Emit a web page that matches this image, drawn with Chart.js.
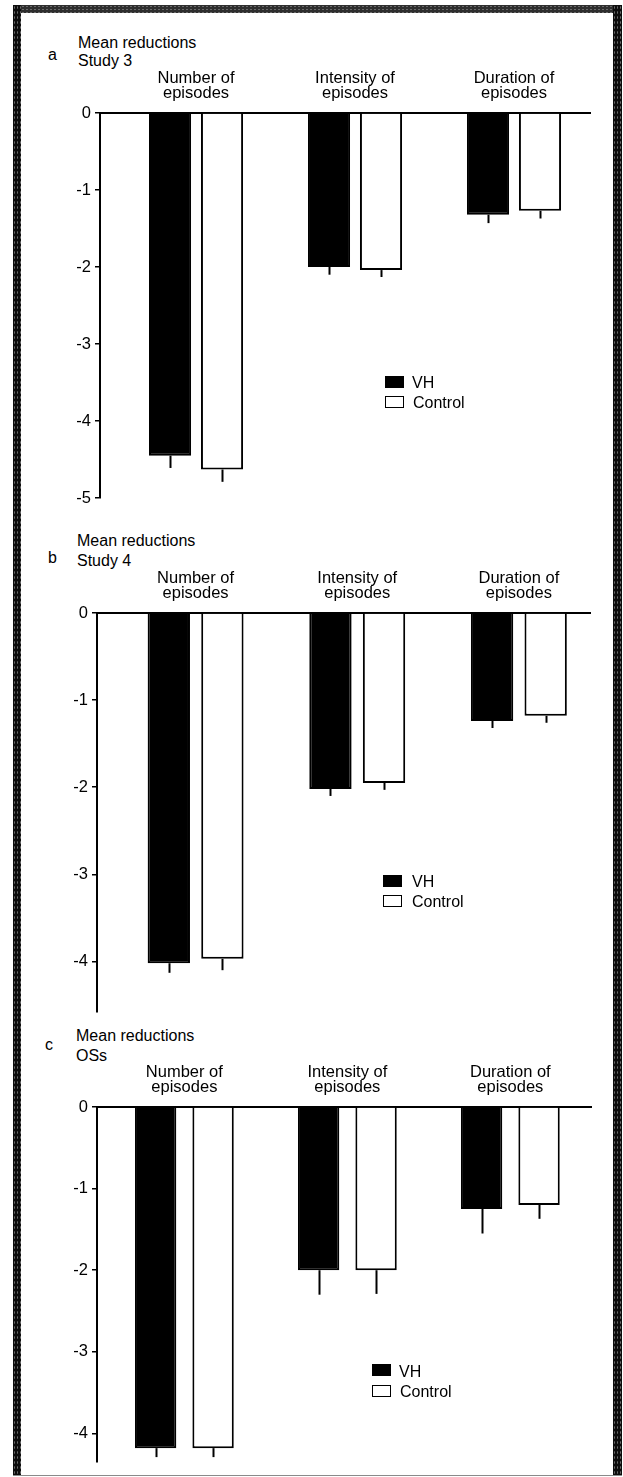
<!DOCTYPE html>
<html>
<head>
<meta charset="utf-8">
<script src="https://cdn.jsdelivr.net/npm/chart.js@4.4.1/dist/chart.umd.min.js"></script>
<style>
  html, body { margin: 0; padding: 0; background: #fff; }
  #fig { position: relative; width: 623px; height: 1477px; overflow: hidden;
         font-family: 'Liberation Sans', Arial, Helvetica, sans-serif; color: #000; }
  .band { position: absolute;
          background-color: #0d0d0d;
          background-image: radial-gradient(#6a6a6a 0.5px, transparent 0.8px);
          background-size: 3px 5px; }
  .band.top { background-color: #2e2e2e; background-size: 4px 3px; }
  .txt { position: absolute; font-size: 16px; line-height: 16px; white-space: nowrap; }
  .sw { position: absolute; width: 19px; height: 12px; box-sizing: border-box; border: 1.5px solid #000; }
  .sw.vh { background: #000; }
  .sw.ctrl { background: #fff; }
  canvas { position: absolute; left: 0; }
</style>
</head>
<body>
<div id="fig">
  <div class="band top" style="left:13px; top:5px; width:609px; height:8px;"></div>
  <div class="band" style="left:13px; top:5px; width:8px; height:1471px;"></div>
  <div class="band" style="left:613px; top:5px; width:9px; height:1471px;"></div>
  <div style="position:absolute; left:13px; top:1475px; width:609px; height:1px; background:#8a8a8a;"></div>

  <!-- panel a -->
  <div class="txt" style="left:48px; top:46.5px;">a</div>
  <div class="txt" style="left:78px; top:34.5px;">Mean reductions</div>
  <div class="txt" style="left:78px; top:53px;">Study 3</div>
  <canvas id="chartA"></canvas>
  <div class="sw vh" style="left:385px; top:376px;"></div>
  <div class="txt" style="left:412px; top:375px;">VH</div>
  <div class="sw ctrl" style="left:385px; top:396px;"></div>
  <div class="txt" style="left:413px; top:395px;">Control</div>

  <!-- panel b -->
  <div class="txt" style="left:48px; top:549.5px;">b</div>
  <div class="txt" style="left:77px; top:533px;">Mean reductions</div>
  <div class="txt" style="left:77px; top:553px;">Study 4</div>
  <canvas id="chartB"></canvas>
  <div class="sw vh" style="left:383px; top:875px;"></div>
  <div class="txt" style="left:412px; top:873.5px;">VH</div>
  <div class="sw ctrl" style="left:383px; top:895px;"></div>
  <div class="txt" style="left:412px; top:893.5px;">Control</div>

  <!-- panel c -->
  <div class="txt" style="left:45px; top:1036.5px;">c</div>
  <div class="txt" style="left:76px; top:1028px;">Mean reductions</div>
  <div class="txt" style="left:76px; top:1048px;">OSs</div>
  <canvas id="chartC"></canvas>
  <div class="sw vh" style="left:372px; top:1364px;"></div>
  <div class="txt" style="left:399px; top:1363.5px;">VH</div>
  <div class="sw ctrl" style="left:372px; top:1385px;"></div>
  <div class="txt" style="left:400px; top:1383.5px;">Control</div>
</div>

<script>
// Outcome categories (x axis, one group of two bars each)
const categories = [['Number of', 'episodes'], ['Intensity of', 'episodes'], ['Duration of', 'episodes']];
const seriesNames = ['VH', 'Control'];

// Study 3: mean reductions and one-sided error
const study3VH = [-4.45, -2.00, -1.32];
const study3Control = [-4.63, -2.04, -1.27];
const study3VHErr = [0.16, 0.10, 0.11];
const study3ControlErr = [0.16, 0.09, 0.10];
const study3Ticks = [0, -1, -2, -3, -4, -5];

// Study 4
const study4VH = [-4.02, -2.02, -1.24];
const study4Control = [-3.97, -1.95, -1.18];
const study4VHErr = [0.11, 0.08, 0.08];
const study4ControlErr = [0.13, 0.08, 0.08];
const study4Ticks = [0, -1, -2, -3, -4];

// OSs
const ossVH = [-4.18, -2.00, -1.25];
const ossControl = [-4.18, -2.00, -1.20];
const ossVHErr = [0.11, 0.30, 0.30];
const ossControlErr = [0.11, 0.29, 0.17];
const ossTicks = [0, -1, -2, -3, -4];

const FONT = "'Liberation Sans', Arial, Helvetica, sans-serif";

// Downward error whiskers from the end of each bar
const errorBars = {
  id: 'errorBars',
  afterDatasetsDraw(chart) {
    const { ctx } = chart;
    const y = chart.scales.y;
    ctx.save();
    ctx.strokeStyle = '#000';
    ctx.lineWidth = 2;
    chart.data.datasets.forEach((ds, di) => {
      const meta = chart.getDatasetMeta(di);
      meta.data.forEach((bar, i) => {
        const v = ds.data[i].y;
        const e = ds.errors[i];
        const x = Math.round(bar.x) + 0.5;
        ctx.beginPath();
        ctx.moveTo(x, y.getPixelForValue(v));
        ctx.lineTo(x, y.getPixelForValue(v - e));
        ctx.stroke();
      });
    });
    ctx.restore();
  }
};

function toPoints(values) {
  return values.map((v, i) => ({ x: i, y: v }));
}

function drawPanel(canvasId, L, vh, ctrl, vhErr, ctrlErr, ticks) {
  const canvas = document.getElementById(canvasId);
  const height = L.end + 14 - L.top;
  canvas.width = 623;
  canvas.height = height;
  canvas.style.top = L.top + 'px';
  canvas.style.width = '623px';
  canvas.style.height = height + 'px';

  const barStyle = { borderColor: '#000', borderWidth: 2, borderSkipped: 'start',
                     categoryPercentage: L.catPct, barPercentage: L.barPct };

  new Chart(canvas.getContext('2d'), {
    type: 'bar',
    data: {
      datasets: [
        Object.assign({ label: seriesNames[0], data: toPoints(vh), errors: vhErr, backgroundColor: '#000' }, barStyle),
        Object.assign({ label: seriesNames[1], data: toPoints(ctrl), errors: ctrlErr, backgroundColor: '#fff' }, barStyle)
      ]
    },
    options: {
      responsive: false,
      animation: false,
      devicePixelRatio: 1,
      layout: { padding: { left: 0, right: 623 - L.right, top: 0, bottom: 14 } },
      plugins: { legend: { display: false }, tooltip: { enabled: false }, title: { display: false } },
      scales: {
        x: {
          type: 'linear',
          position: 'top',
          min: L.xMin,
          max: L.xMax,
          offset: false,
          grid: { display: false, drawTicks: false },
          border: { display: true, color: '#000', width: 2 },
          ticks: {
            padding: 12,
            color: '#000',
            maxRotation: 0,
            autoSkip: false,
            font: { family: FONT, size: 16.5, lineHeight: 0.93 },
            callback: (v) => categories[v]
          },
          afterBuildTicks: (s) => { s.ticks = categories.map((c, i) => ({ value: i })); },
          afterFit: (s) => { s.height = L.zero - L.top; }
        },
        y: {
          type: 'linear',
          min: L.yMin,
          max: 0,
          grid: { display: true, drawOnChartArea: false, drawTicks: true, tickLength: 5, color: '#000', lineWidth: 1.5 },
          border: { display: true, color: '#000', width: 2 },
          ticks: {
            padding: 4,
            color: '#000',
            font: { family: FONT, size: 16.5 },
            callback: (v) => String(v)
          },
          afterBuildTicks: (s) => { s.ticks = ticks.map((v) => ({ value: v })); },
          afterFit: (s) => { s.width = L.axisX; }
        }
      }
    },
    plugins: [errorBars]
  });
}

drawPanel('chartA',
  { top: 60, zero: 113, end: 498, axisX: 100, right: 590, yMin: -5, xMin: -0.604, xMax: 2.478, catPct: 0.654, barPct: 0.81 },
  study3VH, study3Control, study3VHErr, study3ControlErr, study3Ticks);

drawPanel('chartB',
  { top: 560, zero: 613, end: 1012, axisX: 97, right: 590, yMin: -4.58, xMin: -0.61, xMax: 2.44, catPct: 0.663, barPct: 0.79 },
  study4VH, study4Control, study4VHErr, study4ControlErr, study4Ticks);

drawPanel('chartC',
  { top: 1054, zero: 1107, end: 1462, axisX: 97, right: 591, yMin: -4.35, xMin: -0.536, xMax: 2.495, catPct: 0.705, barPct: 0.72 },
  ossVH, ossControl, ossVHErr, ossControlErr, ossTicks);
</script>
</body>
</html>
